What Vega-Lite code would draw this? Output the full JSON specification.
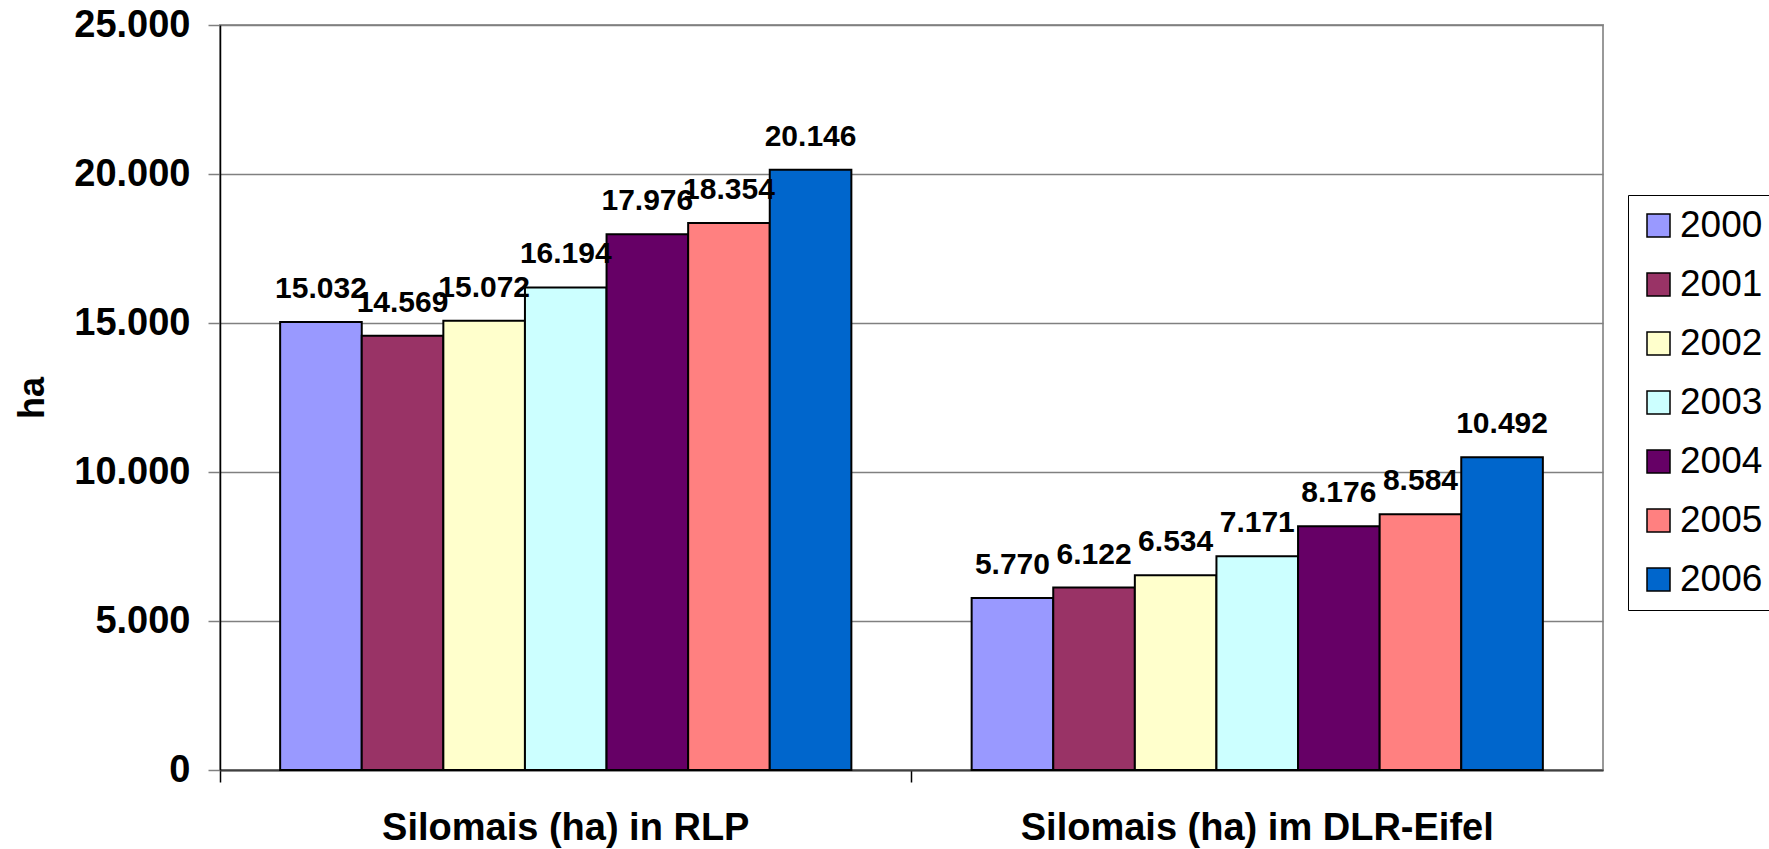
{
  "$schema": "https://vega.github.io/schema/vega-lite/v6.json",
  "autosize": {"type": "none"},
  "width": 1383,
  "height": 745,
  "padding": {"left": 220, "top": 25, "right": 166, "bottom": 79},
  "background": "white",
  "config": {
    "locale": {"number": {"decimal": ",", "thousands": ".", "grouping": [3], "currency": ["", " €"]}},
    "view": {"stroke": "#999999", "strokeWidth": 2},
    "font": "Liberation Sans"
  },
  "data": {
    "values": [
      {"region": "Silomais (ha) in RLP", "year": "2000", "ha": 15032},
      {"region": "Silomais (ha) in RLP", "year": "2001", "ha": 14569},
      {"region": "Silomais (ha) in RLP", "year": "2002", "ha": 15072},
      {"region": "Silomais (ha) in RLP", "year": "2003", "ha": 16194},
      {"region": "Silomais (ha) in RLP", "year": "2004", "ha": 17976},
      {"region": "Silomais (ha) in RLP", "year": "2005", "ha": 18354},
      {"region": "Silomais (ha) in RLP", "year": "2006", "ha": 20146},
      {"region": "Silomais (ha) im DLR-Eifel", "year": "2000", "ha": 5770},
      {"region": "Silomais (ha) im DLR-Eifel", "year": "2001", "ha": 6122},
      {"region": "Silomais (ha) im DLR-Eifel", "year": "2002", "ha": 6534},
      {"region": "Silomais (ha) im DLR-Eifel", "year": "2003", "ha": 7171},
      {"region": "Silomais (ha) im DLR-Eifel", "year": "2004", "ha": 8176},
      {"region": "Silomais (ha) im DLR-Eifel", "year": "2005", "ha": 8584},
      {"region": "Silomais (ha) im DLR-Eifel", "year": "2006", "ha": 10492}
    ]
  },
  "encoding": {
    "x": {
      "field": "region", "type": "nominal", "sort": null,
      "scale": {"paddingInner": 0, "paddingOuter": 0},
      "axis": {
        "title": null, "labelAngle": 0, "labelLimit": 0, "bandPosition": 0,
        "domainColor": "#404040", "domainWidth": 2,
        "tickColor": "#000000", "tickWidth": 1.5, "tickSize": 12,
        "labelPadding": 27, "labelFontSize": 38, "labelFontWeight": "bold",
        "labelColor": "#000000", "labelFont": "Liberation Sans"
      }
    },
    "xOffset": {
      "field": "year", "type": "nominal", "sort": null,
      "scale": {"paddingInner": 0, "paddingOuter": 0.737}
    },
    "y": {
      "field": "ha", "type": "quantitative",
      "scale": {"domain": [0, 25000], "nice": false},
      "axis": {
        "values": [0, 5000, 10000, 15000, 20000, 25000],
        "format": ",d",
        "title": "ha", "titleFontSize": 36, "titleFontWeight": "bold", "titleColor": "#000000",
        "titleFont": "Liberation Sans", "titlePadding": 22,
        "domainColor": "#000000", "domainWidth": 1.5,
        "grid": true, "gridColor": "#808080", "gridWidth": 1.5,
        "tickColor": "#808080", "tickWidth": 1.5, "tickSize": 12,
        "labelPadding": 18, "labelFontSize": 38, "labelFontWeight": "bold",
        "labelColor": "#000000", "labelFont": "Liberation Sans"
      }
    }
  },
  "layer": [
    {
      "mark": {"type": "bar", "stroke": "#000000", "strokeWidth": 2},
      "encoding": {
        "color": {
          "field": "year", "type": "nominal", "sort": null,
          "scale": {
            "domain": ["2000", "2001", "2002", "2003", "2004", "2005", "2006"],
            "range": ["#9999FF", "#993366", "#FFFFCC", "#CCFFFF", "#660066", "#FF8080", "#0066CC"]
          },
          "legend": {
            "title": null, "orient": "none", "legendX": 1408, "legendY": 170,
            "strokeColor": "#000000", "fillColor": "#ffffff", "padding": 12,
            "symbolType": "square", "symbolSize": 529, "symbolStrokeColor": "#000000",
            "symbolStrokeWidth": 1.5, "symbolOpacity": 1,
            "labelFontSize": 37, "labelFont": "Liberation Sans", "labelColor": "#000000",
            "labelOffset": 3, "rowPadding": 21, "labelLimit": 0
          }
        }
      }
    },
    {
      "mark": {"type": "text", "baseline": "alphabetic", "align": "center", "dy": -24,
               "fontSize": 30, "fontWeight": "bold", "font": "Liberation Sans", "color": "#000000"},
      "encoding": {
        "text": {"field": "ha", "type": "quantitative", "format": ",d"}
      }
    }
  ]
}
